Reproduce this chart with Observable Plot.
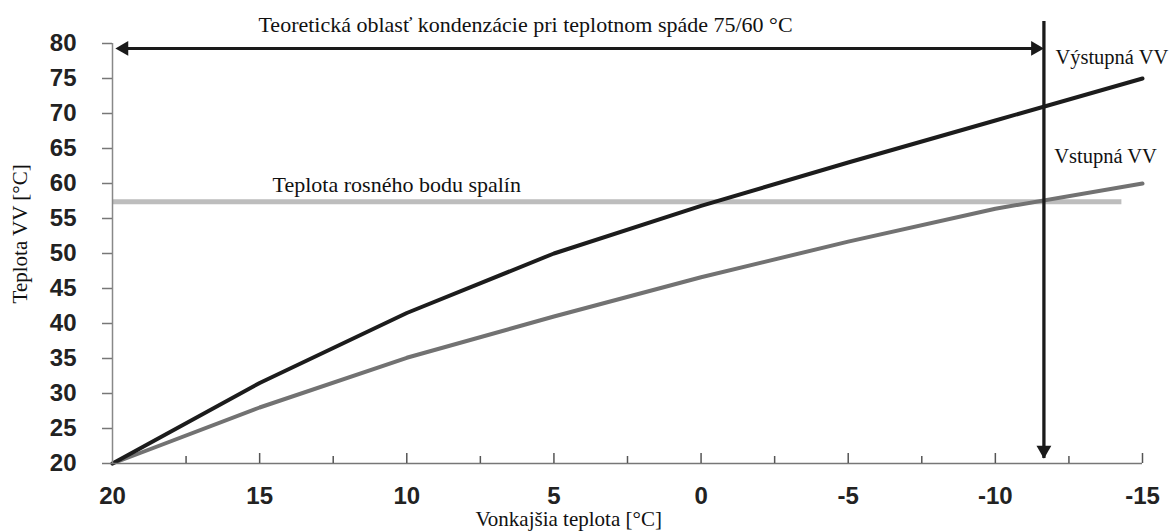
<!DOCTYPE html>
<html><head><meta charset="utf-8">
<script src="https://cdn.jsdelivr.net/npm/d3@7"></script>
<script src="https://cdn.jsdelivr.net/npm/@observablehq/plot@0.6"></script>
<style>
html,body{margin:0;padding:0;background:#fff;}
</style></head><body><div id="chart"></div>
<script>
// outdoor temperature (x) and water temperatures (y)
const outdoorTemp = [20, 15, 10, 5, 0, -5, -10, -15];
const vystupnaVV = [20, 31.5, 41.5, 50, 56.8, 63, 69, 75];
const vstupnaVV = [20, 28, 35.1, 41, 46.6, 51.7, 56.4, 60];
const xTickLabels = [20, 15, 10, 5, 0, -5, -10, -15];
const xMajorTicks = [15, 10, 5, 0, -5, -10, -15];
const xMinorTicks = [17.5, 12.5, 7.5, 2.5, -2.5, -7.5, -12.5];
const yTicks = [20, 25, 30, 35, 40, 45, 50, 55, 60, 65, 70, 75, 80];
const dewPoint = 57.4;
const dewPointEnd = -14.3;
const condensationLimit = -11.65;
const rangeArrowY = 79.3;
const rangeArrowStart = 19.9;
const limitArrowTop = 82;
const limitArrowBottom = 20.7;
const xLabel = "Vonkajšia teplota [°C]";
const yLabel = "Teplota VV [°C]";
const mainNotes = [
  {text: "Teoretická oblasť kondenzácie pri teplotnom spáde 75/60 °C", x: 15.04, y: 82.7},
  {text: "Teplota rosného bodu spalín", x: 14.56, y: 59.86}
];
const seriesNotes = [
  {text: "Výstupná VV", x: -12.04, y: 78},
  {text: "Vstupná VV", x: -12.0, y: 63.86}
];

const outRows = outdoorTemp.map((t, i) => ({t, v: vystupnaVV[i]}));
const inRows = outdoorTemp.map((t, i) => ({t, v: vstupnaVV[i]}));

const sans = "'Liberation Sans', Arial, sans-serif";
const serif = "'Liberation Serif', 'Times New Roman', serif";

const chart = Plot.plot({
  width: 1174, height: 531,
  marginLeft: 112, marginRight: 32, marginTop: 43, marginBottom: 68,
  x: {domain: [20, -15]},
  y: {domain: [20, 80]},
  style: {fontFamily: serif, background: "#fff", overflow: "visible"},
  marks: [
    Plot.ruleY([dewPoint], {x1: 20, x2: dewPointEnd, stroke: "#bdbdbd", strokeWidth: 5}),
    Plot.line(inRows, {x: "t", y: "v", stroke: "#727272", strokeWidth: 4}),
    Plot.line(outRows, {x: "t", y: "v", stroke: "#1c1c1c", strokeWidth: 4}),
    Plot.ruleX([20], {stroke: "#888", strokeWidth: 1.5}),
    Plot.ruleY([20], {stroke: "#777", strokeWidth: 1.5}),
    Plot.tickX(xMajorTicks, {x: d => d, insetTop: 410, stroke: "#555", strokeWidth: 1.5}),
    Plot.tickX(xMinorTicks, {x: d => d, insetTop: 413, stroke: "#555", strokeWidth: 1.5}),
    Plot.tickY(yTicks, {y: d => d, insetLeft: -10, insetRight: 1030, stroke: "#777", strokeWidth: 1.5}),
    Plot.axisY({ticks: yTicks, tickSize: 0, tickPadding: 36, fontSize: 24, fontWeight: "bold",
      fontFamily: sans, label: null, color: "#222", tickFormat: d => String(d)}),
    Plot.axisX({ticks: xTickLabels, tickSize: 0, tickPadding: 23, fontSize: 24, fontWeight: "bold",
      fontFamily: sans, label: null, color: "#222", tickFormat: d => String(d)}),
    // condensation range arrow
    Plot.ruleY([rangeArrowY], {x1: rangeArrowStart, x2: condensationLimit, insetLeft: 8, insetRight: 8,
      stroke: "#1a1a1a", strokeWidth: 3}),
    Plot.dot([rangeArrowStart], {x: d => d, y: rangeArrowY, symbol: "triangle", r: 5.5, rotate: -90,
      dx: 8.5, fill: "#1a1a1a", stroke: "none"}),
    Plot.dot([condensationLimit], {x: d => d, y: rangeArrowY, symbol: "triangle", r: 5.5, rotate: 90,
      dx: -8.5, fill: "#1a1a1a", stroke: "none"}),
    // vertical limit arrow
    Plot.ruleX([condensationLimit], {y1: limitArrowBottom, y2: limitArrowTop, insetBottom: 8,
      stroke: "#1a1a1a", strokeWidth: 3.3}),
    Plot.dot([condensationLimit], {x: d => d, y: limitArrowBottom, symbol: "triangle", r: 5.5, rotate: 180,
      dy: -8.5, fill: "#1a1a1a", stroke: "none"}),
    // text
    Plot.text(mainNotes, {x: "x", y: "y", text: "text", textAnchor: "start", fontSize: 22,
      fontFamily: serif, fill: "#111"}),
    Plot.text(seriesNotes, {x: "x", y: "y", text: "text", textAnchor: "start", fontSize: 20.5,
      fontFamily: serif, fill: "#111"}),
    Plot.text([xLabel], {x: 4.5, frameAnchor: "bottom", lineAnchor: "middle", dy: 56, fontSize: 21,
      fontFamily: serif, fill: "#111"}),
    Plot.text([yLabel], {y: 52.8, frameAnchor: "left", textAnchor: "middle", lineAnchor: "middle",
      dx: -92, rotate: -90, fontSize: 21, fontFamily: serif, fill: "#111"})
  ]
});
document.getElementById("chart").appendChild(chart);
</script>
</body></html>
